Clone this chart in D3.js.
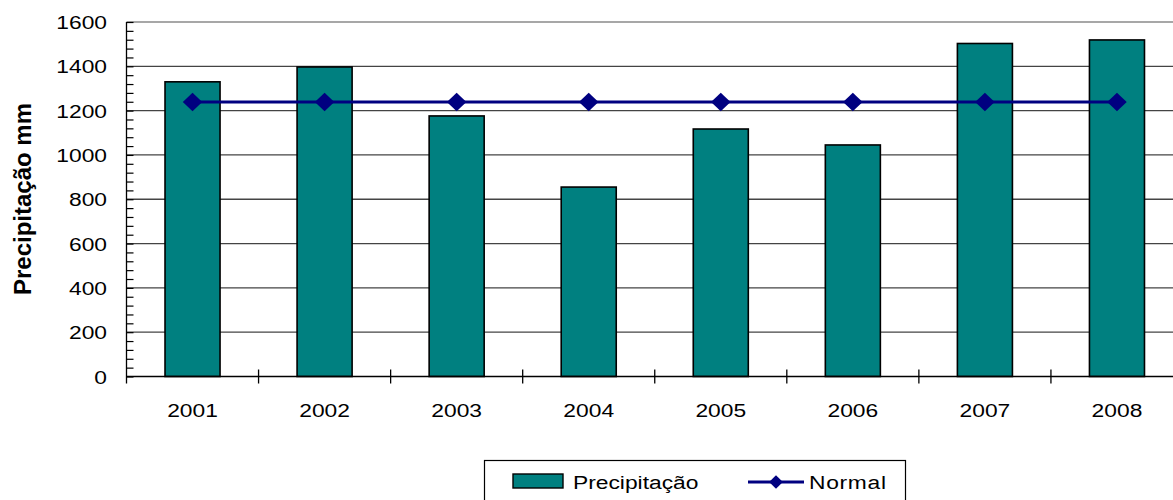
<!DOCTYPE html>
<html>
<head>
<meta charset="utf-8">
<script src="https://cdn.jsdelivr.net/npm/d3@7"></script>
<style>
  body { margin: 0; background: #fff; }
  svg { display: block; font-family: Arial, "Liberation Sans", sans-serif; }
</style>
</head>
<body>
<svg id="chart" width="1173" height="500"></svg>
<script>
const years = ["2001", "2002", "2003", "2004", "2005", "2006", "2007", "2008"];
const precipitacao = [1330, 1397, 1176, 855, 1117, 1045, 1503, 1519];
const normal = [1239, 1239, 1239, 1239, 1239, 1239, 1239, 1239];
const yTicks = [0, 200, 400, 600, 800, 1000, 1200, 1400, 1600];
const legendLabels = ["Precipitação", "Normal"];

const svg = d3.select("#chart");
const mLeft = 126.5, mRight = 1183, mTop = 22, mBottom = 376.5;
const sx = 1.2; // text looks horizontally stretched

const x = d3.scaleBand().domain(years).range([mLeft, mRight]);
const y = d3.scaleLinear().domain([0, 1600]).range([mBottom, mTop]);
const barW = x.bandwidth() / 2.4;

// gridlines
svg.append("g")
  .selectAll("line")
  .data(yTicks.filter(d => d > 0))
  .join("line")
  .attr("x1", mLeft).attr("x2", mRight)
  .attr("y1", d => y(d)).attr("y2", d => y(d))
  .attr("stroke", d => d === 1600 ? "#8a8a8a" : "#444")
  .attr("stroke-width", 1.3);

// minor ticks, inside the plot
svg.append("g")
  .attr("transform", `translate(${mLeft},0)`)
  .call(d3.axisRight(y).tickValues(d3.range(0, 1601, 40)).tickSize(7).tickFormat(""))
  .call(g => g.select(".domain").remove())
  .call(g => g.selectAll("line").attr("stroke", "#000").attr("stroke-width", 1.2));

// bars
svg.append("g")
  .selectAll("rect")
  .data(years)
  .join("rect")
  .attr("x", (d) => x(d) + x.bandwidth() / 2 - barW / 2)
  .attr("width", barW)
  .attr("y", (d, i) => y(precipitacao[i]))
  .attr("height", (d, i) => mBottom - y(precipitacao[i]))
  .attr("fill", "#008080")
  .attr("stroke", "#000")
  .attr("stroke-width", 1.6);

// axes lines
svg.append("line").attr("x1", mLeft).attr("x2", mLeft).attr("y1", mTop).attr("y2", mBottom + 7)
  .attr("stroke", "#000").attr("stroke-width", 1.3);
svg.append("line").attr("x1", mLeft).attr("x2", mRight).attr("y1", mBottom).attr("y2", mBottom)
  .attr("stroke", "#000").attr("stroke-width", 1.3);

// x ticks at category boundaries
svg.append("g")
  .selectAll("line")
  .data(years.slice(1))
  .join("line")
  .attr("x1", d => x(d)).attr("x2", d => x(d))
  .attr("y1", mBottom - 7).attr("y2", mBottom + 7)
  .attr("stroke", "#000").attr("stroke-width", 1.3);

// y labels
svg.append("g")
  .selectAll("text")
  .data(yTicks)
  .join("text")
  .attr("transform", d => `translate(107,${y(d) + 7}) scale(${sx},1)`)
  .attr("text-anchor", "end")
  .attr("font-size", 19)
  .text(d => d);

// x labels
svg.append("g")
  .selectAll("text")
  .data(years)
  .join("text")
  .attr("transform", d => `translate(${x(d) + x.bandwidth() / 2},417) scale(${sx},1)`)
  .attr("text-anchor", "middle")
  .attr("font-size", 19)
  .text(d => d);

// axis title
svg.append("text")
  .attr("transform", "translate(31,199) rotate(-90)")
  .attr("text-anchor", "middle")
  .attr("font-size", 24)
  .attr("font-weight", "bold")
  .text("Precipitação mm");

// normal line
const cx = (d) => x(d) + x.bandwidth() / 2;
const line = d3.line().x((d, i) => cx(years[i])).y(d => y(d));
svg.append("path")
  .datum(normal)
  .attr("d", line)
  .attr("fill", "none")
  .attr("stroke", "#000080")
  .attr("stroke-width", 3);

const diamond = d3.symbol().type(d3.symbolDiamond2).size(220);
svg.append("g")
  .selectAll("path")
  .data(normal)
  .join("path")
  .attr("transform", (d, i) => `translate(${cx(years[i])},${y(d)}) scale(1.05,1)`)
  .attr("d", diamond)
  .attr("fill", "#000080");

// legend
const lg = svg.append("g");
lg.append("rect")
  .attr("x", 484.5).attr("y", 460.5).attr("width", 421).attr("height", 60)
  .attr("fill", "#fff").attr("stroke", "#000").attr("stroke-width", 1.2);
lg.append("rect")
  .attr("x", 513).attr("y", 474).attr("width", 50).attr("height", 14)
  .attr("fill", "#008080").attr("stroke", "#000").attr("stroke-width", 1.4);
lg.append("text")
  .attr("transform", `translate(573,489) scale(${sx},1)`)
  .attr("font-size", 19)
  .text(legendLabels[0]);
lg.append("line")
  .attr("x1", 748).attr("x2", 804).attr("y1", 482).attr("y2", 482)
  .attr("stroke", "#000080").attr("stroke-width", 3);
lg.append("path")
  .attr("transform", "translate(776,482)")
  .attr("d", d3.symbol().type(d3.symbolDiamond2).size(120))
  .attr("fill", "#000080");
lg.append("text")
  .attr("transform", `translate(809,489) scale(${sx},1)`)
  .attr("font-size", 19)
  .attr("letter-spacing", 0.6)
  .text(legendLabels[1]);
</script>
</body>
</html>
